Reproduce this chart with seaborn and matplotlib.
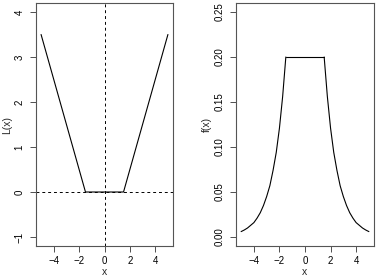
import numpy as np
import matplotlib
matplotlib.use("Agg")
import matplotlib.pyplot as plt
import seaborn as sns

# left panel: piecewise linear loss
loss_x = [-5.0, -1.5, 1.5, 5.0]
loss_y = [3.5, 0.0, 0.0, 3.5]

# right panel: density
dens_x = [-5.0, -4.75, -4.5, -4.25, -4.0, -3.75, -3.5, -3.25, -3.0, -2.75,
          -2.5, -2.25, -2.0, -1.75, -1.5, 1.5, 1.75, 2.0, 2.25, 2.5, 2.75,
          3.0, 3.25, 3.5, 3.75, 4.0, 4.25, 4.5, 4.75, 5.0]
dens_y = [0.006, 0.0078, 0.010, 0.013, 0.016, 0.021, 0.027, 0.035, 0.045, 0.057,
          0.074, 0.094, 0.121, 0.156, 0.200, 0.200, 0.156, 0.121, 0.094, 0.074,
          0.057, 0.045, 0.035, 0.027, 0.021, 0.016, 0.013, 0.010, 0.0078, 0.006]

xticks = [-4, -2, 0, 2, 4]
loss_ticks = [-1, 0, 1, 2, 3, 4]
dens_ticks = [0.00, 0.05, 0.10, 0.15, 0.20, 0.25]

sns.set_style("ticks")
plt.rcParams['font.family'] = ['Liberation Sans', 'DejaVu Sans']
fs = 7
lfs = 7.5

fig = plt.figure(figsize=(3.77, 2.77), dpi=100)
ax1 = fig.add_axes([36/377, 1 - 246/277, 137/377, 243/277])
ax2 = fig.add_axes([236/377, 1 - 246/277, 138/377, 243/277])

sns.lineplot(x=loss_x, y=loss_y, ax=ax1, color="black", lw=0.8, sort=False)
ax1.axvline(0, color="black", lw=0.7, ls=(0, (3, 3)))
ax1.axhline(0, color="black", lw=0.7, ls=(0, (3, 3)))
ax1.set_xlim(-5.4, 5.4)
ax1.set_ylim(-1.2, 4.2)
ax1.set_yticks(loss_ticks)
ax1.set_yticklabels([str(t) if t >= 0 else "\u22121" for t in loss_ticks])
ax1.set_ylabel("L(x)", fontsize=lfs)

sns.lineplot(x=dens_x[:15], y=dens_y[:15], ax=ax2, color="black", lw=0.8, sort=False)
sns.lineplot(x=dens_x[14:16], y=dens_y[14:16], ax=ax2, color="black", lw=0.8, sort=False)
sns.lineplot(x=dens_x[15:], y=dens_y[15:], ax=ax2, color="black", lw=0.8, sort=False)
ax2.set_xlim(-5.4, 5.4)
ax2.set_ylim(-0.01, 0.26)
ax2.set_yticks(dens_ticks)
ax2.set_yticklabels(["%.2f" % t for t in dens_ticks])
ax2.set_ylabel("f(x)", fontsize=lfs)

for ax in (ax1, ax2):
    ax.set_xticks(xticks)
    ax.set_xticklabels([("\u2212%d" % -t) if t < 0 else str(t) for t in xticks])
    ax.set_xlabel("x", fontsize=lfs)
    ax.xaxis.set_label_coords(0.5, -0.107)
    ax.yaxis.set_label_coords(-0.208, 0.5)
    ax.xaxis.label.set_va("center")
    ax.yaxis.label.set_va("center")
    ax.tick_params(axis="both", direction="out", length=4, width=0.6,
                   colors="#333333", labelcolor="black", labelsize=fs)
    ax.tick_params(axis="x", pad=3)
    ax.tick_params(axis="y", pad=4.3)
    for lab in ax.get_yticklabels():
        lab.set_rotation(90)
        lab.set_va("center")
    for s in ax.spines.values():
        s.set_visible(True)
        s.set_linewidth(0.8)
        s.set_color("#555555")

fig.savefig("out.png", dpi=100)
